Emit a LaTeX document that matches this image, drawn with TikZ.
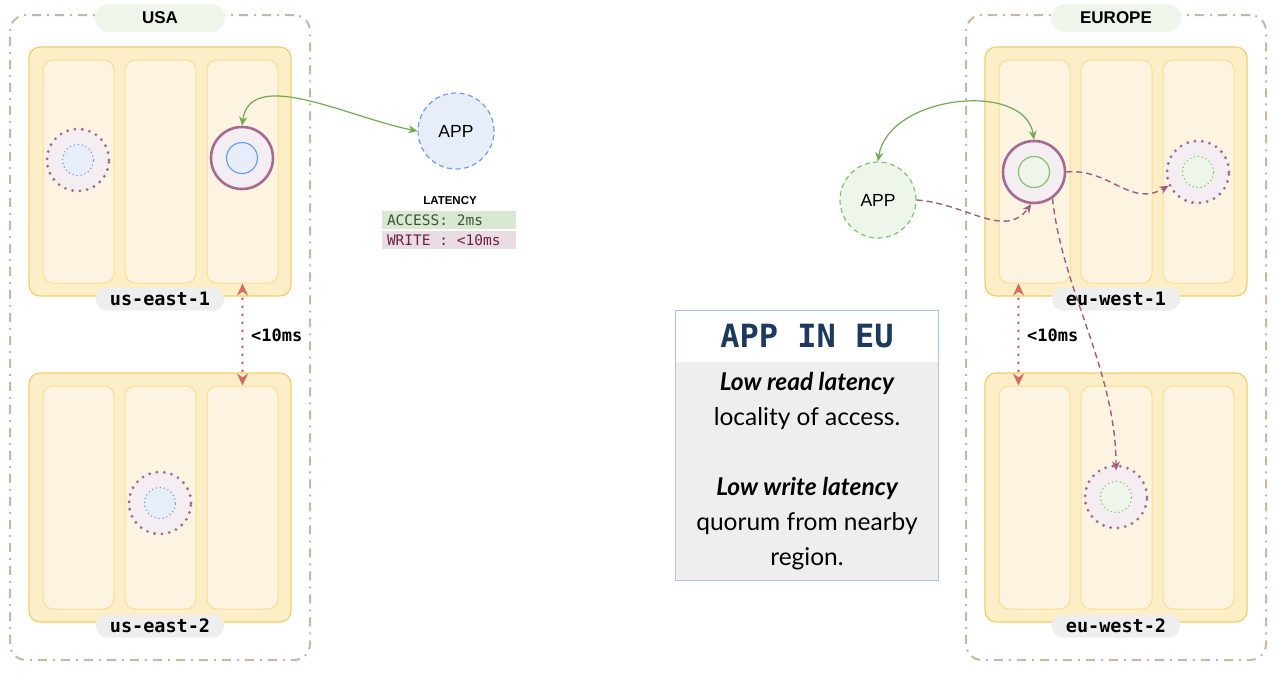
\documentclass[tikz,border=0pt]{standalone}
\usepackage{fontspec}
\setmainfont{Liberation Sans}
\newfontfamily\monob{DejaVu Sans Mono}
\newfontfamily\latof{Lato}
\usetikzlibrary{arrows.meta}
\definecolor{regionc}{HTML}{C9B6A4}
\definecolor{pillgreen}{HTML}{EEF5EA}
\definecolor{pillgray}{HTML}{EEEEEE}
\definecolor{azfill}{HTML}{FCEFC8}
\definecolor{azdraw}{HTML}{F0CE6E}
\definecolor{colfill}{HTML}{FCF4E0}
\definecolor{coldraw}{HTML}{F9DE8E}
\definecolor{ringc}{HTML}{A6698F}
\definecolor{ringfill}{HTML}{F4EEF2}
\definecolor{bluefill}{HTML}{E8EEF9}
\definecolor{bluedraw}{HTML}{6D9EEB}
\definecolor{greenfill}{HTML}{EEF6EC}
\definecolor{greendraw}{HTML}{82C36B}
\definecolor{greenarr}{HTML}{72AA55}
\definecolor{purparr}{HTML}{A35A85}
\definecolor{redarr}{HTML}{D9695B}
\definecolor{accbg}{HTML}{D9E8D3}
\definecolor{acctx}{HTML}{38562A}
\definecolor{wrbg}{HTML}{EADCE3}
\definecolor{wrtx}{HTML}{6B2146}
\definecolor{infodraw}{HTML}{A9C4EB}
\definecolor{infotitle}{HTML}{1C3A5E}
\tikzset{
  region/.style={draw=regionc, line width=2pt, rounded corners=16pt,
    dash pattern=on 9pt off 6pt on 2pt off 6pt, minimum width=300pt, minimum height=645pt, inner sep=0pt},
  regionlbl/.style={fill=pillgreen, rounded corners=14pt, minimum width=130pt, minimum height=28pt,
    inner sep=0pt, font=\fontsize{17}{17}\selectfont\bfseries},
  azbox/.style={draw=azdraw, fill=azfill, line width=1.2pt, rounded corners=11pt,
    minimum width=262pt, minimum height=249pt, inner sep=0pt},
  colbox/.style={draw=coldraw, fill=colfill, line width=1pt, rounded corners=10pt,
    minimum width=71pt, minimum height=223pt, inner sep=0pt},
  azlbl/.style={fill=pillgray, rounded corners=11pt, minimum width=128pt, minimum height=23pt,
    inner sep=0pt, font=\monob\fontsize{18.5}{18.5}\selectfont\bfseries},
  leader/.style={circle, draw=ringc, fill=ringfill, line width=2.6pt, minimum size=62pt, inner sep=0pt},
  replica/.style={circle, draw=ringc, fill=ringfill, line width=3.2pt, line cap=round,
    dash pattern=on 0pt off 7.4pt, minimum size=62pt, inner sep=0pt},
  innerblue/.style={circle, draw=bluedraw, fill=bluefill, line width=1.2pt, minimum size=31pt, inner sep=0pt},
  innerbluedot/.style={innerblue, line width=1.6pt, line cap=round, dash pattern=on 0pt off 4pt},
  innergreen/.style={circle, draw=greendraw, fill=greenfill, line width=1.2pt, minimum size=31pt, inner sep=0pt},
  innergreendot/.style={innergreen, line width=1.6pt, line cap=round, dash pattern=on 0pt off 4pt},
  appnode/.style={circle, line width=1.2pt, dash pattern=on 5pt off 3.5pt, minimum size=76pt, inner sep=0pt,
    font=\fontsize{17.5}{17.5}\selectfont},
  greenline/.style={draw=greenarr, line width=1.2pt, {Stealth[length=9pt,width=8pt]}-{Stealth[length=9pt,width=8pt]}},
  purpline/.style={draw=purparr, line width=1.4pt, dash pattern=on 6pt off 4pt, -{Stealth[length=9pt,width=8pt]}},
  redline/.style={draw=redarr, line width=3pt, line cap=round, dash pattern=on 0pt off 8pt,
    {Stealth[length=12pt,width=11pt,line cap=butt]}-{Stealth[length=12pt,width=11pt,line cap=butt]}},
  msl/.style={anchor=west, inner sep=0pt, font=\monob\fontsize{17}{17}\selectfont\bfseries},
  latbox/.style={minimum height=18pt, minimum width=134pt, inner xsep=5pt, inner ysep=0pt,
    font=\monob\fontsize{14.5}{14.5}\selectfont},
}
\begin{document}
\begin{tikzpicture}[x=1pt,y=-1pt]
\useasboundingbox (0,0) rectangle (1280,673);
% ---------------- USA ----------------
\node[region] (usa) at (160,337.5) {};
\node[regionlbl] (usal) at (160,18) {USA};
\node[azbox] (use1) at (160,171.5) {};
\node[colbox] (uc11) at (78.5,171.5) {};
\node[colbox] (uc12) at (160.5,171.5) {};
\node[colbox] (uc13) at (242.5,171.5) {};
\node[azlbl] (use1l) at (160,299) {us-east-1};
\node[azbox] (use2) at (160,497.5) {};
\node[colbox] (uc21) at (78.5,497.5) {};
\node[colbox] (uc22) at (160.5,497.5) {};
\node[colbox] (uc23) at (242.5,497.5) {};
\node[azlbl] (use2l) at (160,626) {us-east-2};
\node[replica] (urep1) at (78,160) {};
\node[innerbluedot] (urep1i) at (78,160) {};
\node[leader] (ulead) at (242,158) {};
\node[innerblue] (uleadi) at (242,158) {};
\node[replica] (urep2) at (160,503) {};
\node[innerbluedot] (urep2i) at (160,503) {};
\draw[redline] (uc13.south) -- (uc23.north);
\node[msl] (ums) at (251,335) {<10ms};
% app USA
\node[appnode, draw=bluedraw, fill=bluefill] (uapp) at (456,131) {APP};
\draw[greenline] (ulead.north) .. controls (250,66) and (350,118) .. (uapp.west);
\node[font=\fontsize{11.5}{11.5}\selectfont\bfseries] (lat) at (450,201) {LATENCY};
\node[latbox, fill=accbg, text=acctx] (acc) at (449,220) {\makebox[124pt][l]{ACCESS:\hspace{0.602em}2ms}};
\node[latbox, fill=wrbg, text=wrtx] (wr) at (449,240) {\makebox[124pt][l]{WRITE\hspace{0.602em}:\hspace{0.602em}<10ms}};
% ---------------- EUROPE ----------------
\node[region] (eu) at (1116,337.5) {};
\node[regionlbl] (eul) at (1116,18) {EUROPE};
\node[azbox] (euw1) at (1116,171.5) {};
\node[colbox] (ec11) at (1034.5,171.5) {};
\node[colbox] (ec12) at (1116.5,171.5) {};
\node[colbox] (ec13) at (1198.5,171.5) {};
\node[azlbl] (euw1l) at (1116,299) {eu-west-1};
\node[azbox] (euw2) at (1116,497.5) {};
\node[colbox] (ec21) at (1034.5,497.5) {};
\node[colbox] (ec22) at (1116.5,497.5) {};
\node[colbox] (ec23) at (1198.5,497.5) {};
\node[azlbl] (euw2l) at (1116,626) {eu-west-2};
\node[leader] (elead) at (1034,172) {};
\node[innergreen] (eleadi) at (1034,172) {};
\node[replica] (erep1) at (1198,172) {};
\node[innergreendot] (erep1i) at (1198,172) {};
\node[replica] (erep2) at (1116,497) {};
\node[innergreendot] (erep2i) at (1116,497) {};
\draw[redline] ([xshift=-16pt]ec11.south) -- ([xshift=-16pt]ec21.north);
\node[msl] (ems) at (1027,335) {<10ms};
% app EU
\node[appnode, draw=greendraw, fill=greenfill] (eapp) at (878,200) {APP};
\draw[greenline] (eapp.north) .. controls (888,95) and (1025,80) .. (elead.north);
\draw[purpline] (eapp.east) .. controls (965,203) and (1005,240) .. (elead.-95);
\draw[purpline] (elead.east) .. controls (1110,168) and (1130,208) .. (erep1.205);
\draw[purpline] (elead.-55) .. controls (1062,290) and (1116,370) .. ([yshift=-6pt]erep2.north);
% ---------------- info box ----------------
\node[fill=white, minimum width=262pt, minimum height=51pt, inner sep=0pt,
  font=\monob\fontsize{32}{32}\selectfont\bfseries, text=infotitle] (infoh) at (807,336.5) {APP IN EU};
\node[fill=pillgray, minimum width=262pt, minimum height=218pt, inner sep=0pt, anchor=north,
  align=center, font=\latof\fontsize{24.5}{35}\selectfont] (infob) at (infoh.south)
  {{\bfseries\itshape Low read latency}\\ locality of access.\\[35pt]{\bfseries\itshape Low write latency}\\ quorum from nearby\\ region.};
\draw[draw=infodraw, line width=1.3pt] (infoh.north west) rectangle (infob.south east);
\end{tikzpicture}
\end{document}
